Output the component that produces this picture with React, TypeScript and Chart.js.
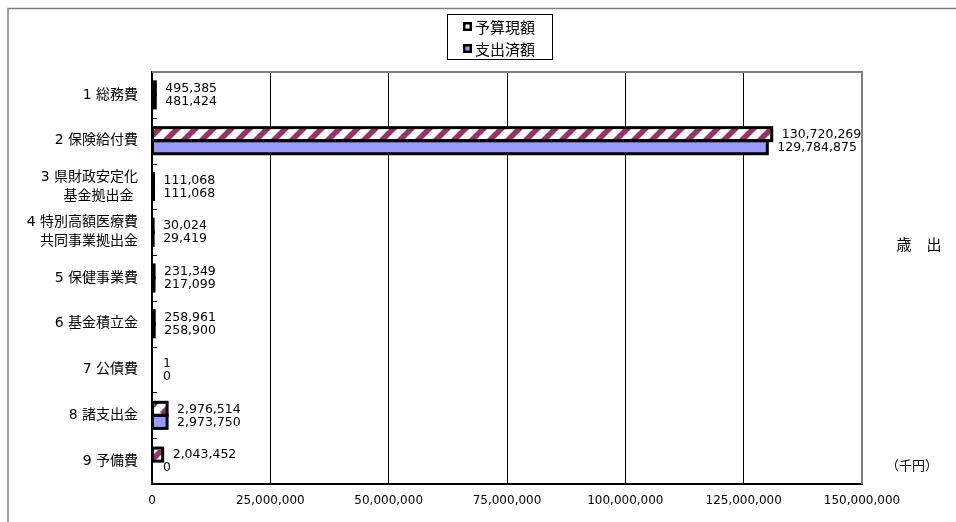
import React, { useEffect, useRef } from "react";
import { Chart, registerables } from "chart.js";

Chart.register(...registerables);

const categories: (string | string[])[] = [
  "1 総務費",
  "2 保険給付費",
  ["3 県財政安定化", "基金拠出金 "],
  ["4 特別高額医療費", "共同事業拠出金"],
  "5 保健事業費",
  "6 基金積立金",
  "7 公債費",
  "8 諸支出金",
  "9 予備費",
];
const budgetValues = [495385, 130720269, 111068, 30024, 231349, 258961, 1, 2976514, 2043452];
const spentValues = [481424, 129784875, 111068, 29419, 217099, 258900, 0, 2973750, 0];
const seriesNames = ["予算現額", "支出済額"];
const xTicks = [0, 25000000, 50000000, 75000000, 100000000, 125000000, 150000000];
const sideTitle = "歳　出";
const unitLabel = "（千円）";

const CJK = "'Noto Sans CJK JP', sans-serif";
const MIX = "'DejaVu Sans', 'Noto Sans CJK JP', sans-serif";
const NUM = "'DejaVu Sans', sans-serif";
const BLUE = "#9999FF";
const MAROON = "#993366";
const GRAY = "#808080";

function makeStripe(): CanvasPattern | string {
  const P = 18;
  const c = document.createElement("canvas");
  c.width = P;
  c.height = P;
  const g = c.getContext("2d");
  if (!g) return MAROON;
  g.fillStyle = "#ffffff";
  g.fillRect(0, 0, P, P);
  g.strokeStyle = MAROON;
  g.lineWidth = 5.5;
  g.beginPath();
  for (const o of [-P, 0, P]) {
    g.moveTo(o, P);
    g.lineTo(o + P, 0);
  }
  g.stroke();
  return g.createPattern(c, "repeat") || MAROON;
}

const fmt = (v: number) => Number(v).toLocaleString("en-US");

const decorPlugin = {
  id: "decor",
  beforeDraw(chart: any) {
    const ctx = chart.ctx as CanvasRenderingContext2D;
    ctx.save();
    ctx.fillStyle = "#ffffff";
    ctx.fillRect(0, 0, chart.width, chart.height);
    ctx.strokeStyle = GRAY;
    ctx.lineWidth = 1.5;
    ctx.beginPath();
    ctx.moveTo(8, chart.height + 5);
    ctx.lineTo(8, 8.5);
    ctx.lineTo(chart.width + 5, 8.5);
    ctx.stroke();
    ctx.restore();
  },
  afterDatasetsDraw(chart: any) {
    const ctx = chart.ctx as CanvasRenderingContext2D;
    const area = chart.chartArea;
    const xs = chart.scales.x;
    const zero = xs.getPixelForValue(0);
    ctx.save();
    // bar borders
    ctx.strokeStyle = "#000000";
    ctx.lineWidth = 3;
    chart.data.datasets.forEach((ds: any, di: number) => {
      const meta = chart.getDatasetMeta(di);
      meta.data.forEach((el: any, i: number) => {
        const p = el.getProps(["y", "height"], true);
        const end = xs.getPixelForValue(ds.data[i]);
        if (end - zero < 0.01) return;
        ctx.strokeRect(zero + 0.5, p.y - p.height / 2, end - zero + 0.5, p.height);
      });
    });
    // value labels
    ctx.fillStyle = "#000000";
    ctx.font = `12.5px ${NUM}`;
    ctx.textAlign = "left";
    ctx.textBaseline = "middle";
    chart.data.datasets.forEach((ds: any, di: number) => {
      const meta = chart.getDatasetMeta(di);
      meta.data.forEach((el: any, i: number) => {
        const p = el.getProps(["y"], true);
        const end = xs.getPixelForValue(ds.data[i]);
        ctx.fillText(fmt(ds.data[i]), end + 11, p.y + 0.5);
      });
    });
    // inner tick marks on category axis
    ctx.strokeStyle = "#000000";
    ctx.lineWidth = 1;
    const n = categories.length;
    const bh = (area.bottom - area.top) / n;
    ctx.beginPath();
    for (let k = 1; k < n; k++) {
      const y = Math.round(area.top + k * bh) + 0.5;
      ctx.moveTo(area.left, y);
      ctx.lineTo(area.left + 5, y);
    }
    ctx.stroke();
    // plot area top/right border
    ctx.strokeStyle = GRAY;
    ctx.lineWidth = 2;
    ctx.beginPath();
    ctx.moveTo(area.left, area.top);
    ctx.lineTo(area.right, area.top);
    ctx.lineTo(area.right, area.bottom);
    ctx.stroke();
    ctx.restore();
  },
  afterDraw(chart: any) {
    const ctx = chart.ctx as CanvasRenderingContext2D;
    ctx.save();
    // legend
    ctx.strokeStyle = "#000000";
    ctx.lineWidth = 1;
    ctx.strokeRect(447.5, 14.5, 105, 45);
    const rows = [26.5, 48.5];
    const fills = ["#ffffff", BLUE];
    ctx.font = `15px ${CJK}`;
    ctx.textAlign = "left";
    ctx.textBaseline = "middle";
    rows.forEach((ry, i) => {
      ctx.fillStyle = "#000000";
      ctx.fillRect(463, ry - 4.5, 9, 9);
      ctx.fillStyle = fills[i];
      ctx.fillRect(465.5, ry - 2, 4, 4);
      ctx.fillStyle = "#000000";
      ctx.fillText(seriesNames[i], 475, ry + 0.5);
    });
    // side texts
    ctx.textAlign = "center";
    ctx.font = `15px ${CJK}`;
    ctx.fillText(sideTitle, 919, 244);
    ctx.font = `13px ${CJK}`;
    ctx.fillText(unitLabel, 912, 465);
    ctx.restore();
  },
};

export default function App() {
  const ref = useRef<HTMLCanvasElement | null>(null);
  useEffect(() => {
    if (!ref.current) return;
    const stripe = makeStripe();
    const hideTiny = (fill: any) => (c: any) => {
      const v = c.raw;
      return typeof v === "number" && v < 1000 ? "rgba(0,0,0,0)" : fill;
    };
    const chart = new Chart(ref.current, {
      type: "bar",
      data: {
        labels: categories as any,
        datasets: [
          {
            label: seriesNames[0],
            data: budgetValues,
            backgroundColor: hideTiny(stripe) as any,
            borderWidth: 0,
            categoryPercentage: 0.57,
            barPercentage: 1,
          },
          {
            label: seriesNames[1],
            data: spentValues,
            backgroundColor: hideTiny(BLUE) as any,
            borderWidth: 0,
            categoryPercentage: 0.57,
            barPercentage: 1,
          },
        ],
      },
      options: {
        indexAxis: "y",
        responsive: false,
        animation: false,
        devicePixelRatio: 1,
        layout: { padding: { left: 0, top: 72, right: 94, bottom: 0 } },
        plugins: {
          legend: { display: false },
          tooltip: { enabled: false },
        },
        scales: {
          x: {
            type: "linear",
            min: 0,
            max: 150000000,
            afterFit: (s: any) => {
              s.height = 38;
            },
            afterBuildTicks: (s: any) => {
              s.ticks = xTicks.map((v) => ({ value: v }));
            },
            grid: {
              drawTicks: false,
              lineWidth: 1,
              color: (c: any) => (c.tick && c.tick.value === 150000000 ? "rgba(0,0,0,0)" : "#000000"),
            },
            border: { display: true, color: "#000000", width: 2 },
            ticks: {
              color: "#000000",
              padding: 10,
              maxRotation: 0,
              autoSkip: false,
              font: { family: NUM, size: 12 },
              callback: (v: any) => fmt(Number(v)),
            },
          },
          y: {
            type: "category",
            afterFit: (s: any) => {
              s.width = 152;
            },
            grid: { display: false, drawTicks: false },
            border: { display: true, color: "#000000", width: 2 },
            ticks: {
              color: "#000000",
              padding: 14,
              autoSkip: false,
              font: { family: MIX, size: 14, lineHeight: 1.35 },
            },
          },
        },
      },
      plugins: [decorPlugin],
    });
    return () => chart.destroy();
  }, []);
  return (
    <div style={{ position: "fixed", left: 0, top: 0, width: 956, height: 522, background: "#fff" }}>
      <canvas ref={ref} width={956} height={522} style={{ display: "block" }} />
    </div>
  );
}
